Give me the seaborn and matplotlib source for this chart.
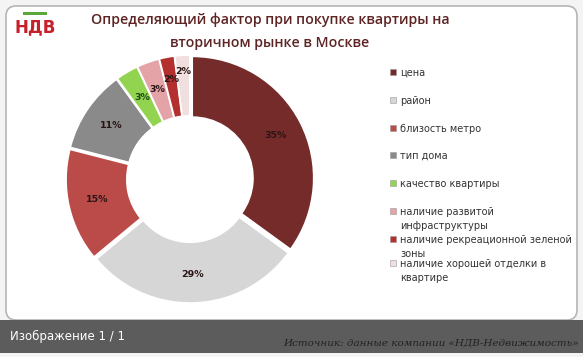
import matplotlib
matplotlib.use('Agg')
import matplotlib.pyplot as plt
import seaborn as sns
import numpy as np
from matplotlib.patches import FancyBboxPatch, Rectangle

sns.set_theme(style='white')
plt.rcParams['font.family'] = ['DejaVu Sans']

# ── data ────────────────────────────────────────────────
factors = ['цена', 'район', 'близость метро', 'тип дома', 'качество квартиры',
           'наличие развитой\nинфраструктуры',
           'наличие рекреационной зеленой\nзоны',
           'наличие хорошей отделки в\nквартире']
shares = [35, 29, 15, 11, 3, 3, 2, 2]
colors = ['#762b2b', '#d6d6d6', '#bb4b49', '#8a8a8a', '#92d450',
          '#e3a3a7', '#b3302f', '#f1dede']

W, H = 583, 357
fig = plt.figure(figsize=(W / 100, H / 100), dpi=100)
fig.patch.set_facecolor('#f4f4f4')

# background panel + bottom caption bar
bg = fig.add_axes([0, 0, 1, 1])
bg.set_xlim(0, W)
bg.set_ylim(H, 0)
bg.axis('off')
bg.add_patch(FancyBboxPatch((6, 6), W - 12, 314, boxstyle='round,pad=0,rounding_size=10',
                            facecolor='white', edgecolor='#b5b5b5', linewidth=1.2))
bg.add_patch(Rectangle((0, 320), W, 33, facecolor='#5c5c5c', edgecolor='none'))
bg.text(10, 336, 'Изображение 1 / 1', color='white', fontsize=8.5, va='center')
bg.text(579, 343, 'Источник: данные компании «НДВ-Недвижимость»', color='#222222',
        fontsize=7.5, style='italic', family='DejaVu Serif', ha='right', va='center')

# logo
bg.add_patch(Rectangle((23, 12), 24, 3, facecolor='#5aa83a', edgecolor='none'))
bg.text(35, 27, 'НДВ', color='#c8202a', fontsize=12, fontweight='bold', ha='center', va='center')

# title
bg.text(270, 20, 'Определяющий фактор при покупке квартиры на', color='#5e2424',
        fontsize=10.2, ha='center', va='center', family='Open Sans', fontweight='semibold')
bg.text(270, 43, 'вторичном рынке в Москве', color='#5e2424',
        fontsize=10.2, ha='center', va='center', family='Open Sans', fontweight='semibold')

# donut
ax = fig.add_axes([66 / W, (H - 179 - 124) / H, 248 / W, 248 / H])
wedges, texts, autotexts = ax.pie(
    shares, colors=colors, startangle=90, counterclock=False,
    radius=0.98, explode=[0.02] * len(shares),
    autopct='%d%%', pctdistance=0.77,
    wedgeprops=dict(width=0.49, edgecolor='white', linewidth=1.2),
    textprops=dict(fontsize=6.8, color='#2a1515', fontweight='bold'))
autotexts[4].set_color('#1f4a10')

# nudge the thin slices' labels the way the original does
label_r = [0.77, 0.77, 0.77, 0.77, 0.76, 0.77, 0.82, 0.87]
for w, t, r in zip(wedges, autotexts, label_r):
    th = np.deg2rad((w.theta1 + w.theta2) / 2)
    t.set_position((r * np.cos(th), r * np.sin(th)))

ax.set_xlim(-1, 1)
ax.set_ylim(-1, 1)
ax.set_aspect('equal')

# legend
legend_y = [72, 100, 128, 155, 183, 211, 239, 263]
for lbl, c, y in zip(factors, colors, legend_y):
    bg.add_patch(Rectangle((390, y - 3), 6, 6, facecolor=c, edgecolor='#9a9a9a', linewidth=0.4))
    bg.text(400, y - 4, lbl, fontsize=7, color='#333333', va='top', linespacing=1.45)

plt.savefig('out.png', dpi=100)
